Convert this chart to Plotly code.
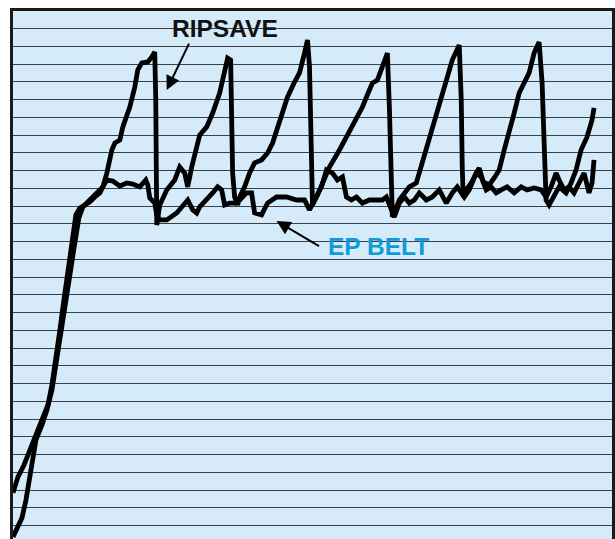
import plotly.graph_objects as go

# RIPSAVE trace (time units, force units)
rip_x = [0, 2, 4.5, 6.5, 8, 9.5, 11.5, 14.5, 17, 19.5, 22, 24.5, 26.5, 28.5, 30, 31.5, 33, 35, 37.5, 40,
         42.5, 45, 47, 49.5, 51, 53.5, 55, 57, 58.5, 61, 62.5, 64.5, 67.5, 69.5, 71, 71.5, 71.75, 72,
         73.5, 77, 81, 83.5, 86, 87.5, 89.5, 92, 93.5, 97, 100, 103.5, 106, 107.5, 109, 109.5, 110,
         111, 112.5, 113.5, 116, 118.5, 121, 124.5, 127.5, 130, 132.5, 135, 137.5, 141, 143.5, 146,
         147.5, 148.5, 149.5, 150, 152.5, 156, 158.5, 163.5, 167, 169.5, 172, 175, 178.5, 180, 182.5,
         185, 187.5, 188.5, 189.5, 190, 193.5, 198.5, 202, 203.5, 207, 209.5, 212, 215, 217.5, 220,
         223.5, 224.5, 225, 225.5, 227, 229.5, 232, 233.5, 235.5, 238.5, 241, 243.5, 246, 248.5, 251,
         253.5, 256, 258.5, 261, 263.5, 265, 266, 267, 268.5, 270, 273.5, 277, 279.5, 282, 284.5,
         287.5, 290, 291]
rip_y = [0.37, 0.87, 1.44, 2.45, 3.58, 4.70, 5.83, 6.68, 7.52, 8.65, 10.34, 12.03, 13.72, 15.13, 16.25,
         17.38, 18.34, 18.96, 19.24, 19.52, 19.75, 20.09, 20.87, 22.17, 22.56, 22.73, 23.47, 24.03,
         24.59, 25.72, 26.68, 27.07, 27.13, 27.41, 27.69, 24.99, 21.04, 17.94, 19.07, 19.92, 20.48,
         21.21, 20.87, 20.09, 21.21, 22.45, 23.01, 23.47, 24.25, 25.38, 26.56, 27.35, 27.24, 23.69,
         20.87, 19.52, 19.07, 19.52, 20.09, 20.87, 21.44, 21.61, 22.00, 22.56, 23.47, 24.42, 25.16,
         26.00, 26.51, 27.63, 28.37, 26.85, 22.17, 19.07, 19.63, 20.48, 21.21, 22.17, 22.90, 23.47,
         23.86, 24.59, 25.55, 25.94, 26.11, 26.85, 27.63, 24.59, 20.48, 18.39, 19.35, 20.09, 20.31,
         20.87, 22.17, 23.13, 24.25, 25.38, 26.28, 27.24, 28.08, 24.99, 21.21, 19.52, 19.92, 20.31,
         20.87, 21.15, 20.37, 20.20, 20.59, 21.04, 22.17, 23.13, 24.25, 25.38, 25.94, 26.51, 27.63,
         28.25, 25.94, 22.17, 19.35, 19.07, 19.35, 20.09, 19.75, 20.31, 21.04, 22.17, 22.90, 23.86,
         24.54]

# EP BELT trace
ep_x = [0, 2.5, 5.5, 8.5, 11.5, 14.5, 17.5, 19.5, 21.5, 23.5, 25.5, 27.5, 29.5, 31.5, 33.5, 36, 38.5,
        41, 43.5, 45.5, 47, 50, 53.5, 57, 60, 63.5, 66.5, 67.5, 68.5, 71, 72, 73.5, 77, 82, 86, 87.5,
        90, 92, 93.5, 97, 100, 102.5, 104.5, 106, 108.5, 111, 113.5, 117, 119.5, 121, 124.5, 127.5,
        132, 137, 142, 146, 148.5, 151, 154.5, 157, 160, 162.5, 165, 167, 169.5, 172, 175, 178.5,
        182, 185, 187, 189.5, 191, 193.5, 196, 198.5, 201, 203.5, 207, 210, 213.5, 217, 220, 222.5,
        226, 228.5, 232, 234.5, 237, 239.5, 242, 244.5, 247.5, 251, 254.5, 257.5, 261, 264.5, 267,
        269.5, 272, 273.5, 276, 278.5, 281, 283.5, 286, 288.5, 290, 291]
ep_y = [2.85, 3.75, 4.42, 5.27, 6.28, 7.07, 7.80, 8.93, 10.34, 12.03, 13.72, 15.41, 17.10, 18.51, 18.90,
        19.07, 19.24, 19.52, 19.75, 20.20, 20.48, 20.42, 20.14, 20.31, 20.25, 20.09, 20.48, 20.20,
        19.47, 19.18, 18.51, 18.23, 18.23, 18.62, 19.18, 19.35, 18.79, 18.62, 18.96, 19.35, 19.75,
        20.09, 19.92, 19.07, 19.18, 19.18, 19.35, 19.75, 19.75, 18.62, 18.51, 19.18, 19.52, 19.52,
        19.35, 19.35, 18.79, 19.35, 20.09, 21.04, 20.87, 20.48, 20.65, 19.52, 19.35, 19.52, 19.18,
        19.35, 19.35, 19.35, 19.52, 18.79, 18.39, 19.18, 19.52, 19.18, 19.35, 19.75, 19.35, 19.52,
        19.92, 19.18, 19.75, 20.09, 19.52, 19.92, 20.87, 20.65, 19.92, 20.09, 19.75, 19.92, 20.09,
        19.75, 20.09, 19.92, 20.03, 19.92, 19.52, 20.09, 20.87, 20.48, 19.92, 20.09, 19.75, 20.31,
        20.87, 19.75, 20.31, 21.61]

labels = ["RIPSAVE", "EP BELT"]
label_colors = ["#111111", "#0f9bd9"]
label_pos = [(106, 29.02), (183.3, 16.72)]
arrow_tip = [(77, 25.55), (132, 18.17)]
arrow_tail = [(88.5, 28.25), (154, 16.70)]

fig = go.Figure()
for xs, ys in [(rip_x, rip_y), (ep_x, ep_y)]:
    fig.add_trace(go.Scatter(x=xs, y=ys, mode="lines",
                             line=dict(color="#000000", width=4.8),
                             hoverinfo="skip", showlegend=False))

for i, lab in enumerate(labels):
    fig.add_annotation(x=label_pos[i][0], y=label_pos[i][1], text="<b>%s</b>" % lab,
                       showarrow=False, xref="x", yref="y",
                       font=dict(family="Liberation Sans, Arial, sans-serif", size=24.5,
                                 color=label_colors[i]))
    fig.add_annotation(x=arrow_tip[i][0], y=arrow_tip[i][1], ax=arrow_tail[i][0],
                       ay=arrow_tail[i][1], axref="x", ayref="y", xref="x", yref="y",
                       text="", showarrow=True, arrowhead=2, arrowsize=1.4,
                       arrowwidth=2, arrowcolor="#000000")

fig.update_layout(
    width=615, height=539,
    margin=dict(l=13, r=1, t=11, b=0),
    paper_bgcolor="#ffffff",
    plot_bgcolor="#d5ebf9",
    showlegend=False,
)
fig.update_xaxes(range=[0, 300], showgrid=False, zeroline=False, showticklabels=False,
                 ticks="", side="top", showline=True, linecolor="#1a1a1a", linewidth=2.5)
fig.update_yaxes(range=[0.25, 30], dtick=1, tick0=0, showgrid=True, gridcolor="#3c3f44",
                 gridwidth=1.2, zeroline=False, showticklabels=False, ticks="",
                 showline=True, mirror=True, linecolor="#1a1a1a", linewidth=2.5)

fig.write_html("out.html", config={"displayModeBar": False},
               post_script="document.body.style.margin='0';")
